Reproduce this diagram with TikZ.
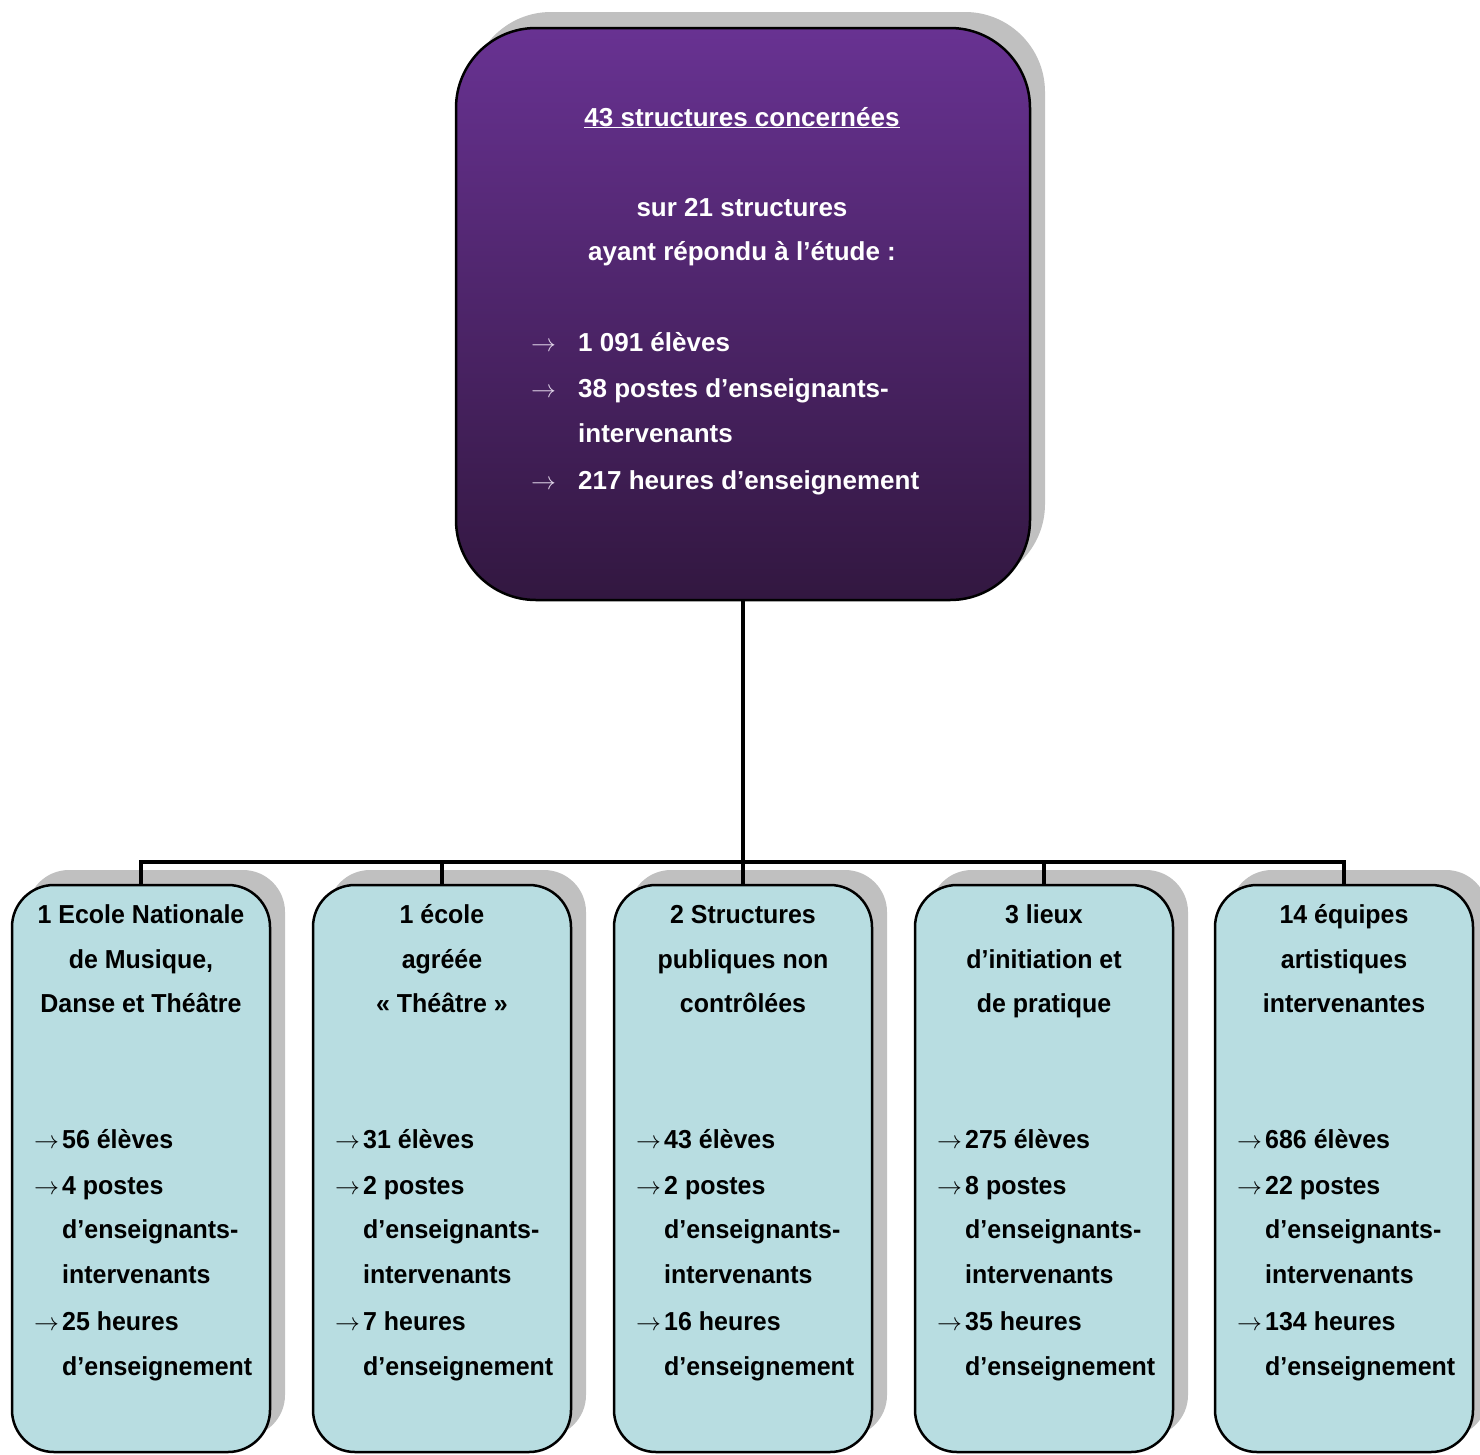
\documentclass[tikz,border=0pt]{standalone}
\usepackage{fontspec}
\setmainfont{Liberation Sans}[FakeStretch=0.96]
\newfontfamily\topfont{Liberation Sans}
\usetikzlibrary{shadows}
\definecolor{topc}{RGB}{104,50,146}
\definecolor{midc}{RGB}{84,40,118}
\definecolor{botc}{RGB}{50,23,64}
\definecolor{boxblue}{RGB}{184,221,225}
\definecolor{shadowgray}{RGB}{192,192,192}
\newcommand{\lowbox}[8]{%
 \node[smallbox] (#1) at ({#2+129},1168.5) {};
 \node[btitle] (#1-t1) at ({#2+129},923) {#3};
 \node[btitle] (#1-t2) at ({#2+129},968) {#4};
 \node[btitle] (#1-t3) at ({#2+129},1012) {#5};
 \node[barrow] (#1-a1) at ({#2+22},1148) {$\rightarrow$};
 \node[btext] (#1-l1) at ({#2+50},1148) {#6 élèves};
 \node[barrow] (#1-a2) at ({#2+22},1194) {$\rightarrow$};
 \node[btext] (#1-l2) at ({#2+50},1194) {#7 postes};
 \node[btext] (#1-l3) at ({#2+50},1238) {d’enseignants-};
 \node[btext] (#1-l4) at ({#2+50},1283) {intervenants};
 \node[barrow] (#1-a3) at ({#2+22},1330) {$\rightarrow$};
 \node[btext] (#1-l5) at ({#2+50},1330) {#8 heures};
 \node[btext] (#1-l6) at ({#2+50},1375) {d’enseignement};
}
\begin{document}
\begin{tikzpicture}[x=1pt,y=-1pt,
  txt/.style={inner sep=0pt, font=\fontsize{26}{31}\selectfont\bfseries},
  toptxt/.style={inner sep=0pt, font=\fontsize{26}{31}\selectfont\topfont\bfseries},
  ttitle/.style={toptxt, text=white, anchor=base},
  ttext/.style={toptxt, text=white, anchor=base west},
  tarrow/.style={toptxt, text=white!80!topc, anchor=base west},
  btitle/.style={txt, text=black, anchor=base},
  btext/.style={txt, text=black, anchor=base west},
  barrow/.style={txt, text=black, anchor=base west},
  bigbox/.style={draw=black, line width=2.5pt, rounded corners=80pt,
    minimum width=574pt, minimum height=572pt, inner sep=0pt,
    top color=topc, middle color=midc, bottom color=botc,
    general shadow={fill=shadowgray, shadow xshift=15pt, shadow yshift=16pt}},
  smallbox/.style={draw=black, line width=2.5pt, rounded corners=42pt,
    minimum width=258pt, minimum height=567pt, inner sep=0pt,
    fill=boxblue,
    general shadow={fill=shadowgray, shadow xshift=15pt, shadow yshift=15pt}},
  conn/.style={draw=black, line width=4pt}
]
\useasboundingbox (0,0) rectangle (1480,1454);
\fill[white] (0,0) rectangle (1480,1454);

% top box
\node[bigbox] (top) at (743,314) {};
\node[ttitle] (top-t1) at (742,126) {\underline{43 structures concernées}};
\node[ttitle] (top-t2) at (742,216) {sur 21 structures};
\node[ttitle] (top-t3) at (742,260) {ayant répondu à l’étude :};
\node[tarrow] (top-a1) at (531,351) {$\rightarrow$};
\node[ttext] (top-l1) at (578,351) {1 091 élèves};
\node[tarrow] (top-a2) at (531,397) {$\rightarrow$};
\node[ttext] (top-l2) at (578,397) {38 postes d’enseignants-};
\node[ttext] (top-l3) at (578,442) {intervenants};
\node[tarrow] (top-a3) at (531,489) {$\rightarrow$};
\node[ttext] (top-l4) at (578,489) {217 heures d’enseignement};

% bottom boxes
\lowbox{b1}{12}{1 Ecole Nationale}{de Musique,}{Danse et Théâtre}{56}{4}{25}
\lowbox{b2}{313}{1 école}{agréée}{« Théâtre »}{31}{2}{7}
\lowbox{b3}{614}{2 Structures}{publiques non}{contrôlées}{43}{2}{16}
\lowbox{b4}{915}{3 lieux}{d’initiation et}{de pratique}{275}{8}{35}
\lowbox{b5}{1215}{14 équipes}{artistiques}{intervenantes}{686}{22}{134}

% connectors
\coordinate (j) at (743,862);
\draw[conn] (top.south) -- (j);
\draw[conn] (b1.north) |- (j);
\draw[conn] (b2.north) |- (j);
\draw[conn] (b3.north) -- (j);
\draw[conn] (b4.north) |- (j);
\draw[conn] (b5.north) |- (j);
\end{tikzpicture}
\end{document}
